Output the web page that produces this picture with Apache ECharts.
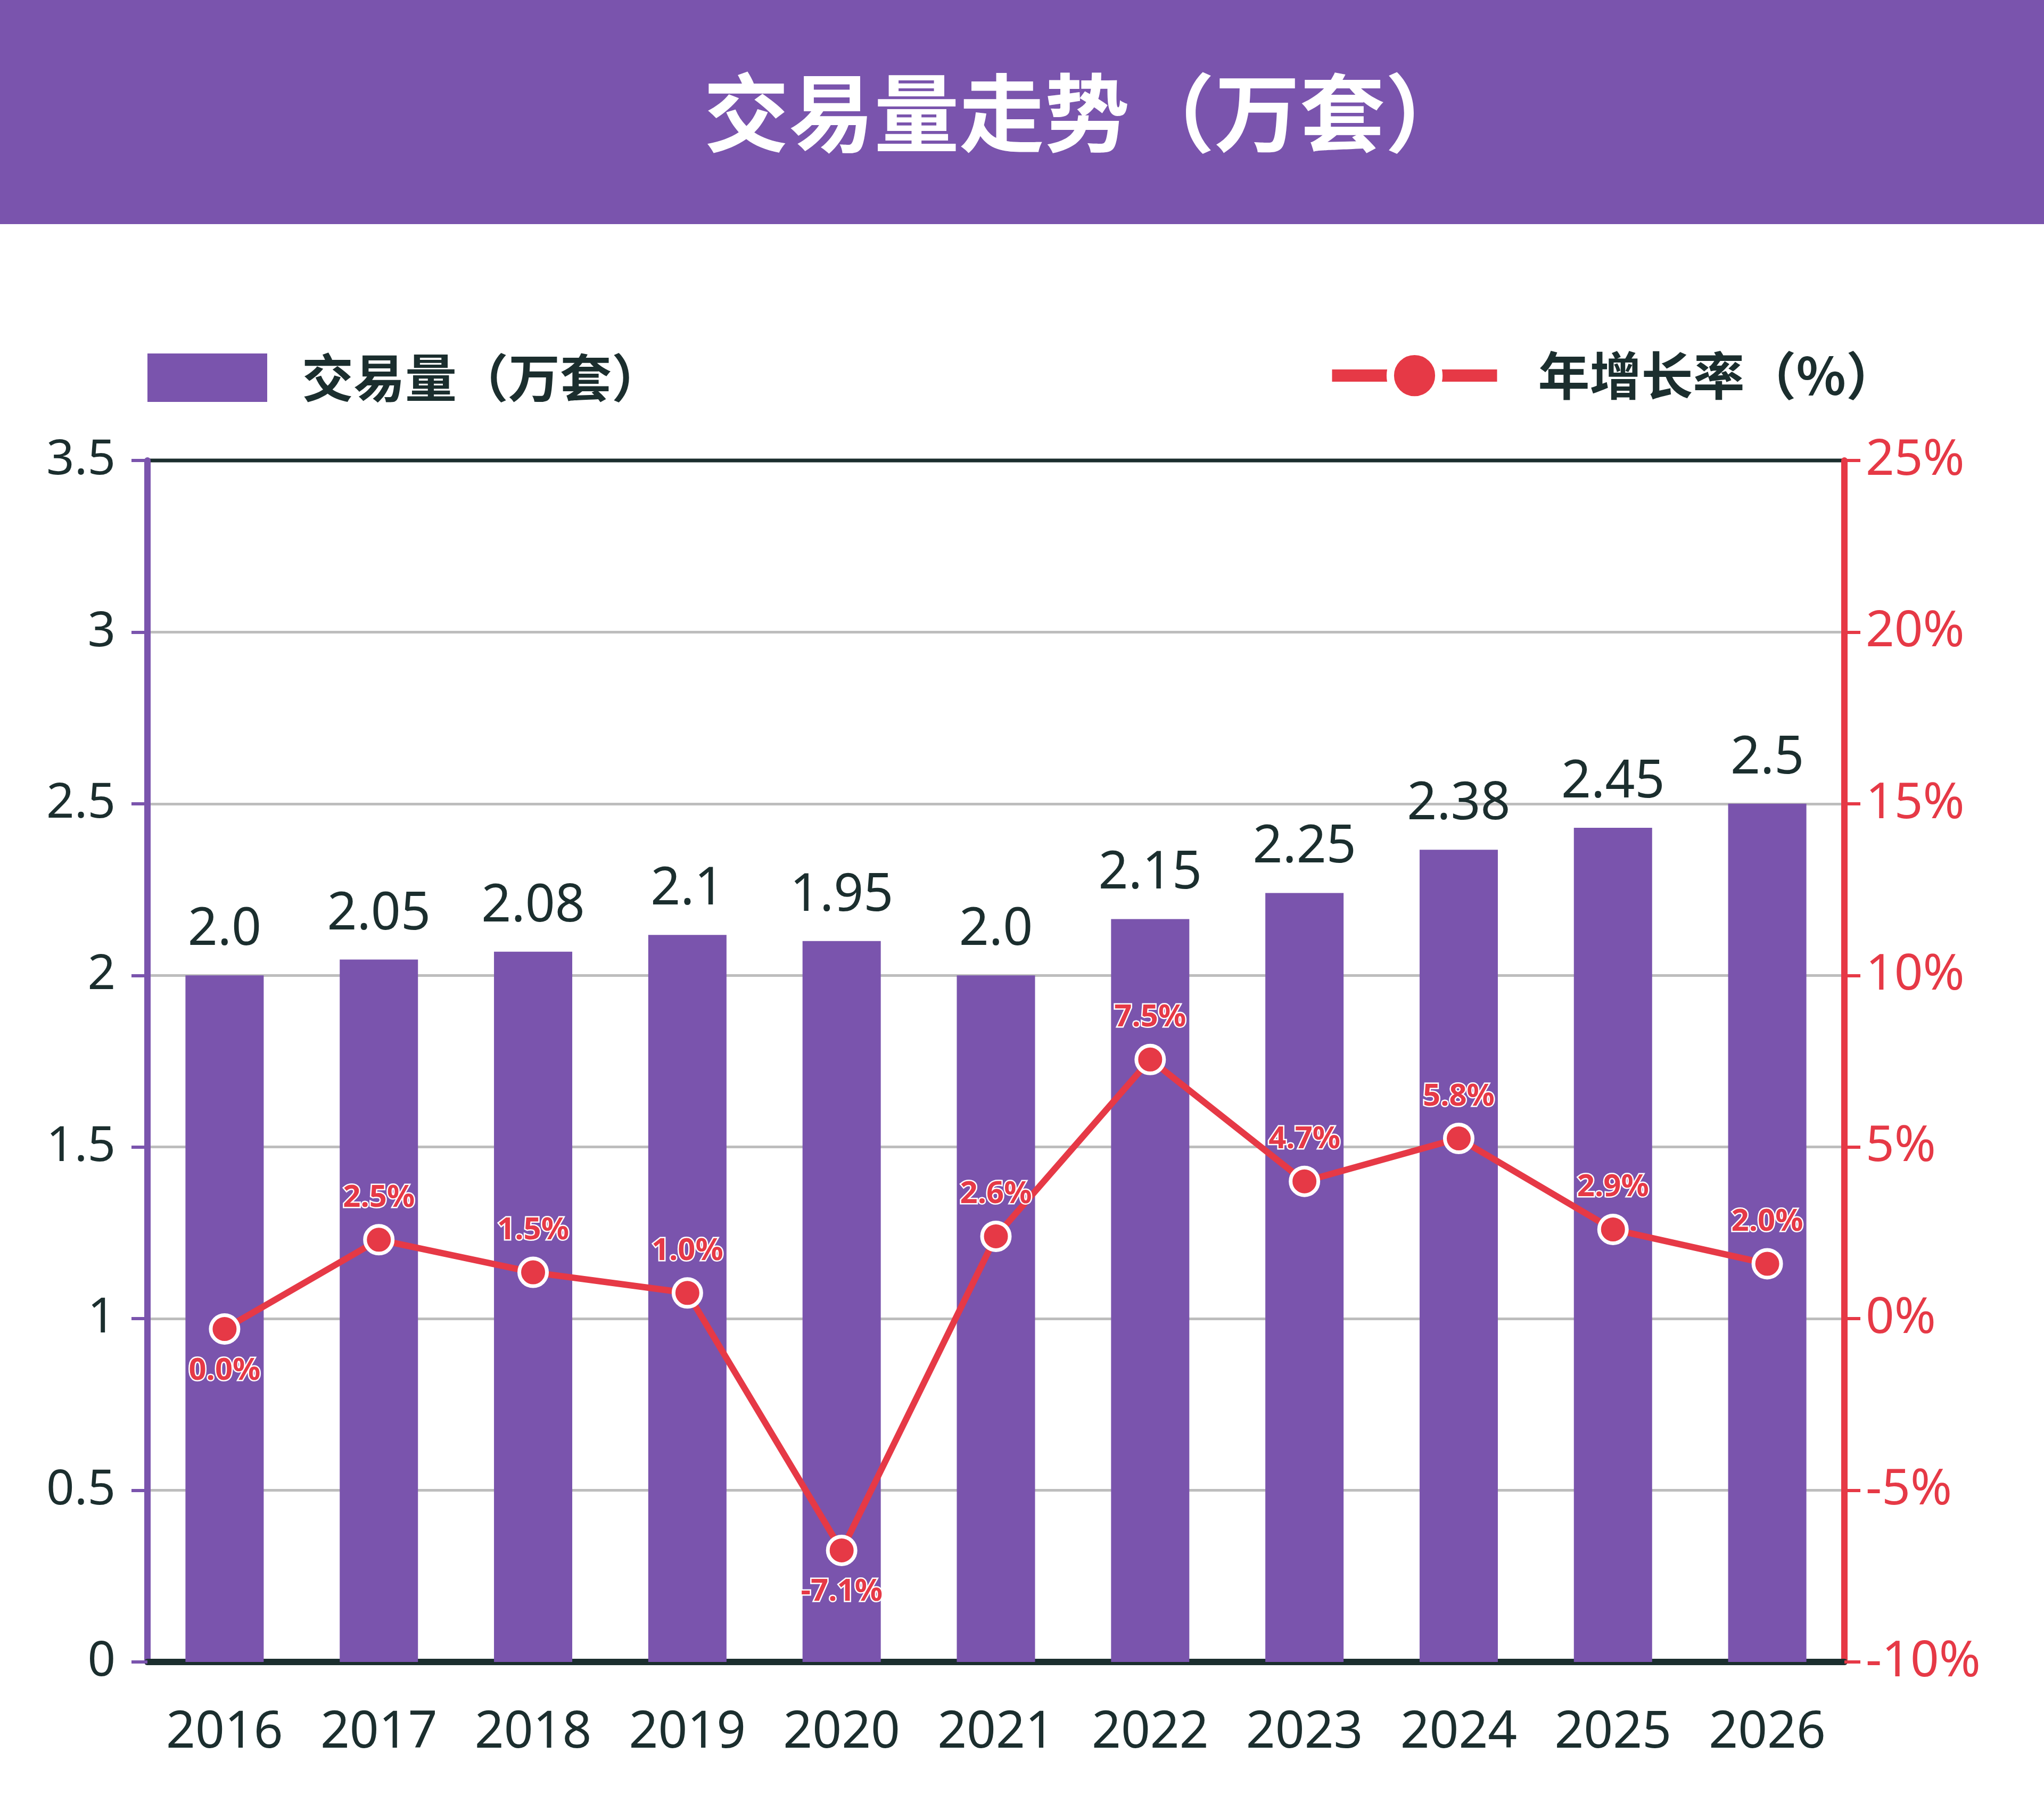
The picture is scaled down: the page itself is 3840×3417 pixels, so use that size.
<!DOCTYPE html>
<html>
<head>
<meta charset="utf-8">
<script src="https://cdn.jsdelivr.net/npm/echarts@6/dist/echarts.min.js"></script>
<style>
  html, body { margin: 0; padding: 0; background: #fff; }
  #chart { width: 3840px; height: 3417px; }
</style>
</head>
<body>
<div id="chart"></div>
<script>
// 数据
const years = ['2016', '2017', '2018', '2019', '2020', '2021', '2022', '2023', '2024', '2025', '2026']
// 柱子高度（按图中实际画出的高度读取）
const volume = [2.0, 2.046, 2.069, 2.118, 2.10, 2.0, 2.164, 2.24, 2.366, 2.43, 2.5]
// 柱子上方标注的文字
const volumeText = ['2.0', '2.05', '2.08', '2.1', '1.95', '2.0', '2.15', '2.25', '2.38', '2.45', '2.5']
// 增长率折线点（按右轴读取）
const growth = [-0.3, 2.3, 1.35, 0.75, -6.75, 2.4, 7.55, 4.0, 5.25, 2.6, 1.6]
const growthText = ['0.0%', '2.5%', '1.5%', '1.0%', '-7.1%', '2.6%', '7.5%', '4.7%', '5.8%', '2.9%', '2.0%']

const PURPLE = '#7A54AD'
const RED = '#E63946'
const DARK = '#1B2E2E'
const CJK = '"Noto Sans CJK SC", "Noto Sans", sans-serif'

const myChart = echarts.init(document.getElementById('chart'))

myChart.setOption({
    backgroundColor: '#fff',
    animation: false,
    textStyle: { fontFamily: CJK },
    graphic: [
        {
            type: 'rect',
            left: 0,
            top: 0,
            shape: { width: 3840, height: 421 },
            style: { fill: PURPLE },
        },
        {
            type: 'text',
            left: 1322,
            top: 132,
            style: {
                text: '交易量走势（万套）',
                fill: '#fff',
                font: 'bold 160px ' + CJK,
            },
        },
    ],
    legend: [
        {
            data: [{ name: '交易量（万套）', icon: 'rect' }],
            left: 272,
            top: 656,
            itemWidth: 225,
            itemHeight: 91,
            textStyle: { color: DARK, fontSize: 97, fontWeight: 'bold', padding: [0, 0, 0, 60] },
        },
        {
            data: ['年增长率（%）'],
            left: 2486,
            top: 648,
            itemWidth: 310,
            itemHeight: 114,
            lineStyle: { width: 23, color: RED },
            itemStyle: { borderColor: '#fff', borderWidth: 14 },
            textStyle: { color: DARK, fontSize: 97, fontWeight: 'bold', padding: [0, 0, 0, 72] },
        },
    ],
    grid: {
        left: 277,
        right: 375,
        top: 865,
        bottom: 295,
        show: true,
        borderColor: DARK,
        borderWidth: 7,
    },
    xAxis: {
        type: 'category',
        data: years,
        axisLine: { lineStyle: { color: DARK, width: 12 } },
        axisTick: { show: false },
        axisLabel: { interval: 0, color: DARK, fontSize: 96, margin: 86, fontFamily: 'Noto Sans' },
    },
    yAxis: [
        {
            type: 'value',
            min: 0,
            max: 3.5,
            interval: 0.5,
            axisLine: { show: true, lineStyle: { color: PURPLE, width: 12 } },
            axisTick: { show: true, length: 30, lineStyle: { color: PURPLE, width: 6 } },
            axisLabel: { color: DARK, fontSize: 92, margin: 60, fontFamily: 'Noto Sans' },
            splitLine: { showMinLine: false, showMaxLine: false, lineStyle: { color: '#BDBDBD', width: 5 } },
        },
        {
            type: 'value',
            min: -10,
            max: 25,
            interval: 5,
            axisLine: { show: true, lineStyle: { color: RED, width: 12 } },
            axisTick: { show: true, length: 30, lineStyle: { color: RED, width: 6 } },
            axisLabel: { color: RED, fontSize: 94, margin: 40, formatter: '{value}%', fontFamily: 'Noto Sans' },
            splitLine: { show: false },
        },
    ],
    series: [
        {
            name: '交易量（万套）',
            type: 'bar',
            data: volume,
            barWidth: 147,
            itemStyle: { color: PURPLE },
            label: {
                show: true,
                position: 'top',
                distance: 36,
                color: DARK,
                fontSize: 98,
                fontFamily: 'Noto Sans',
                formatter: (p) => volumeText[p.dataIndex],
            },
            z: 2,
        },
        {
            name: '年增长率（%）',
            type: 'line',
            yAxisIndex: 1,
            // 负值标签放在点下方
            data: growth.map((v) => ({
                value: v,
                label: { position: v < 0 ? 'bottom' : 'top' },
            })),
            symbol: 'circle',
            symbolSize: 52,
            lineStyle: { color: RED, width: 12 },
            itemStyle: { color: RED, borderColor: '#fff', borderWidth: 7 },
            label: {
                show: true,
                distance: 20,
                color: RED,
                fontSize: 58,
                fontWeight: 'bold',
                fontFamily: 'Noto Sans',
                textBorderColor: '#fff',
                textBorderWidth: 5,
                formatter: (p) => growthText[p.dataIndex],
            },
            z: 5,
        },
    ],
})
</script>
</body>
</html>
